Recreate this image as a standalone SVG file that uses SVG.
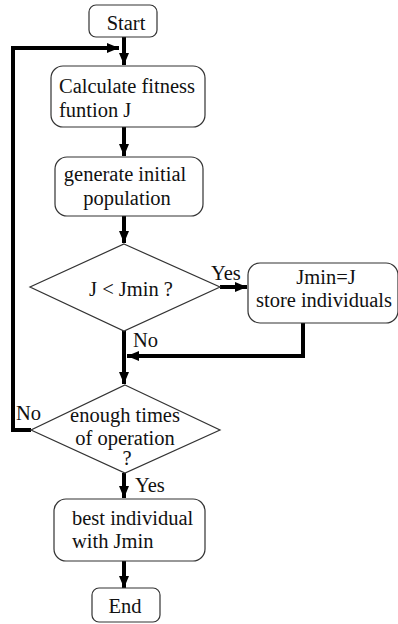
<svg xmlns="http://www.w3.org/2000/svg" width="398" height="624" viewBox="0 0 398 624">
<defs>
<marker id="ah" markerUnits="userSpaceOnUse" markerWidth="12" markerHeight="10" refX="12" refY="5" orient="auto">
<path d="M0,0 L12,5 L0,10 z" fill="#000"/>
</marker>
<style>
.box{fill:#fff;stroke:#333;stroke-width:1.2}
text{font-family:'Liberation Serif','Times New Roman','DejaVu Serif',serif;font-size:20.5px;fill:#111}
.c{text-anchor:middle}
.ln{fill:none;stroke:#000;stroke-width:4}
</style>
</defs>
<rect width="398" height="624" fill="#fff"/>
<g id="connectors">
<path class="ln" d="M124,37 V65" marker-end="url(#ah)"/>
<path class="ln" d="M124,127 V156" marker-end="url(#ah)"/>
<path class="ln" d="M124,216 V243" marker-end="url(#ah)"/>
<path class="ln" d="M220,287 H247" marker-end="url(#ah)"/>
<path class="ln" d="M124,331 V384" marker-end="url(#ah)"/>
<path class="ln" d="M303,323 V356 H127" marker-end="url(#ah)"/>
<path class="ln" d="M31,430 H13 V48 H119" marker-end="url(#ah)"/>
<path class="ln" d="M124,473 V498" marker-end="url(#ah)"/>
<path class="ln" d="M124,561 V588" marker-end="url(#ah)"/>
<text x="211" y="280">Yes</text>
<text x="133" y="347">No</text>
<text x="16" y="420">No</text>
<text x="135" y="492">Yes</text>
</g>
<g id="start">
<rect class="box" x="89" y="5" width="68" height="32" rx="7"/>
<text class="c" x="126" y="30">Start</text>
</g>
<g id="calc">
<rect class="box" x="51" y="66" width="154" height="61" rx="12"/>
<text x="59" y="93">Calculate fitness</text>
<text x="59" y="117">funtion J</text>
</g>
<g id="generate">
<rect class="box" x="55" y="157" width="148" height="59" rx="12"/>
<text class="c" x="125" y="181">generate initial</text>
<text class="c" x="127" y="205">population</text>
</g>
<g id="decision1">
<polygon class="box" points="124,244 220,287 124,331 30,287"/>
<text class="c" x="131" y="296">J &lt; Jmin ?</text>
</g>
<g id="store">
<rect class="box" x="248" y="263" width="150" height="60" rx="12"/>
<text class="c" x="326" y="284">Jmin=J</text>
<text class="c" x="324" y="307">store individuals</text>
</g>
<g id="decision2">
<polygon class="box" points="125,385 220,430 125,473 31,430"/>
<text class="c" x="125" y="422">enough times</text>
<text class="c" x="125" y="445">of operation</text>
<text class="c" x="127" y="465">?</text>
</g>
<g id="best">
<rect class="box" x="54" y="499" width="151" height="62" rx="12"/>
<text x="72" y="525">best individual</text>
<text x="72" y="548">with Jmin</text>
</g>
<g id="end">
<rect class="box" x="92" y="588" width="68" height="34" rx="7"/>
<text class="c" x="125" y="613">End</text>
</g>
</svg>
